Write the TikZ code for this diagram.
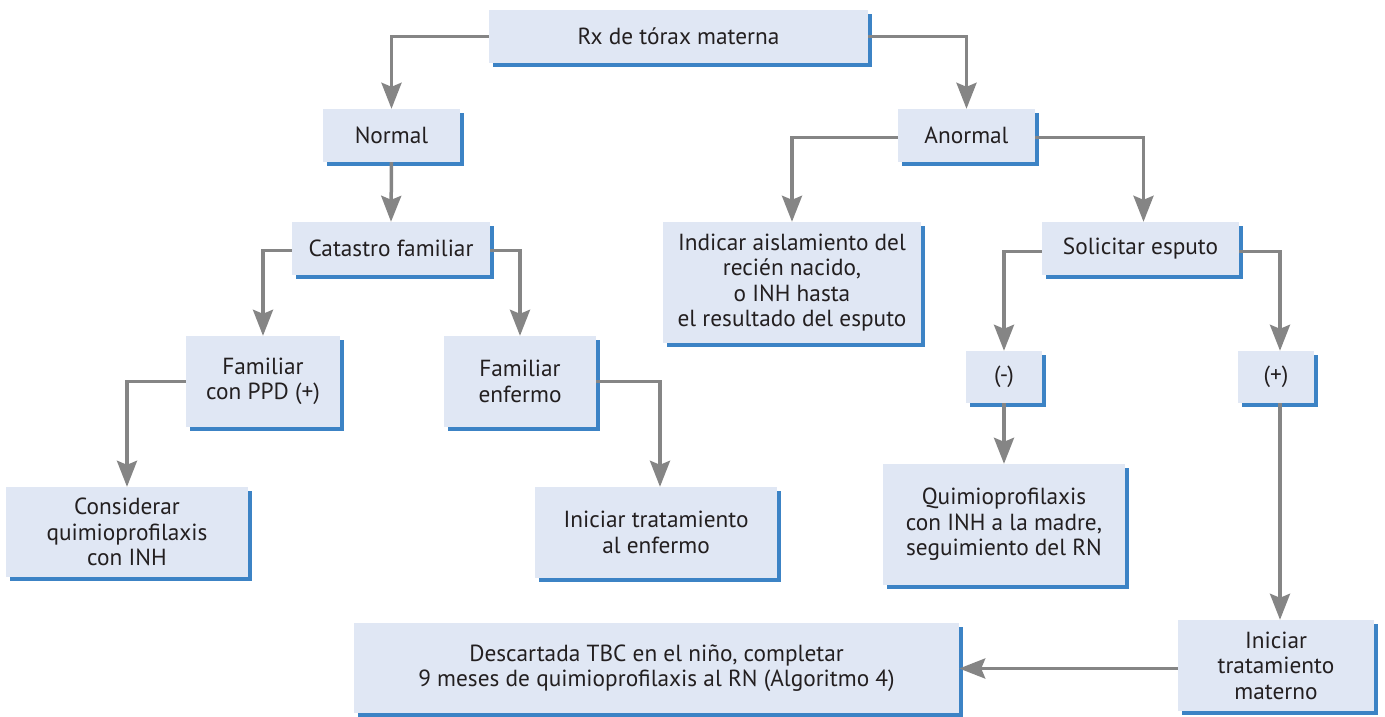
\documentclass[tikz,border=0pt]{standalone}
\usepackage{fontspec}
\setmainfont{PT Sans}
\usetikzlibrary{arrows.meta,shadows}
\definecolor{boxfill}{HTML}{E0E7F4}
\definecolor{boxshadow}{HTML}{3C83C5}
\definecolor{linegray}{HTML}{858585}
\definecolor{txt}{HTML}{231F20}
\begin{document}
\begin{tikzpicture}[x=1pt, y=-1pt]
\useasboundingbox (0,0) rectangle (1385,716);
\begin{scope}[every node/.style={fill=boxfill, text=txt, align=center, inner sep=0pt,
    font=\fontsize{23.3}{25.5}\selectfont,
    drop shadow={shadow xshift=4pt, shadow yshift=-4pt, fill=boxshadow, opacity=1}}]
    \node[minimum width=379pt, minimum height=53pt] (rx) at (678.5,36.5) {Rx de tórax materna};
    \node[minimum width=137pt, minimum height=53pt] (normal) at (391.5,135.5) {Normal};
    \node[minimum width=137pt, minimum height=53pt] (anormal) at (966.5,135.5) {Anormal};
    \node[minimum width=198pt, minimum height=53pt] (catastro) at (391,248.5) {Catastro familiar};
    \node[minimum width=258pt, minimum height=121pt] (aislar) at (792,282.5) {Indicar aislamiento del\\recién nacido,\\o INH hasta\\el resultado del esputo};
    \node[minimum width=197pt, minimum height=53pt] (esputo) at (1140.5,248.5) {Solicitar esputo};
    \node[minimum width=154pt, minimum height=91pt] (ppd) at (263,381.5) {Familiar\\con PPD (+)};
    \node[minimum width=152pt, minimum height=91pt] (enfermo) at (520,381.5) {Familiar\\enfermo};
    \node[minimum width=76pt, minimum height=52pt] (neg) at (1004,377) {(-)};
    \node[minimum width=76pt, minimum height=52pt] (pos) at (1276,377) {(+)};
    \node[minimum width=242pt, minimum height=90pt] (considerar) at (127,532) {Considerar\\quimioprofilaxis\\con INH};
    \node[minimum width=242pt, minimum height=91pt] (tratenf) at (656,532.5) {Iniciar tratamiento\\al enfermo};
    \node[minimum width=242pt, minimum height=121pt] (quimio) at (1004,524.5) {Quimioprofilaxis\\con INH a la madre,\\seguimiento del RN};
    \node[minimum width=605pt, minimum height=90pt] (descartada) at (656.5,668) {Descartada TBC en el niño, completar\\9 meses de quimioprofilaxis al RN (Algoritmo 4)};
    \node[minimum width=196pt, minimum height=91pt] (tratmat) at (1276,665.5) {Iniciar\\tratamiento\\materno};
\end{scope}
\begin{scope}[every path/.style={draw=linegray, line width=3.5pt, -{Stealth[length=26pt, width=20pt, inset=4pt]}}]
    \draw (rx.west) -| (normal.north);
    \draw (rx.east) -| (anormal.north);
    \draw (normal.south) -- (catastro.north);
    \draw ([yshift=-2pt]anormal.west) -| (aislar.north);
    \draw ([yshift=-2pt]anormal.east) -| ([xshift=3pt]esputo.north);
    \draw ([yshift=-2pt]catastro.west) -| (ppd.north);
    \draw ([yshift=-2pt]catastro.east) -| (enfermo.north);
    \draw ([yshift=-3pt]esputo.west) -| (neg.north);
    \draw ([yshift=-3pt]esputo.east) -| ([xshift=4pt]pos.north);
    \draw (ppd.west) -| (considerar.north);
    \draw (enfermo.east) -| ([xshift=4pt]tratenf.north);
    \draw (neg.south) -- (quimio.north);
    \draw ([xshift=4pt]pos.south) -- ([xshift=4pt]tratmat.north);
    \draw ([yshift=-3pt]tratmat.west) -- ([yshift=-3pt]tratmat.west -| descartada.east);
\end{scope}
\end{tikzpicture}
\end{document}
